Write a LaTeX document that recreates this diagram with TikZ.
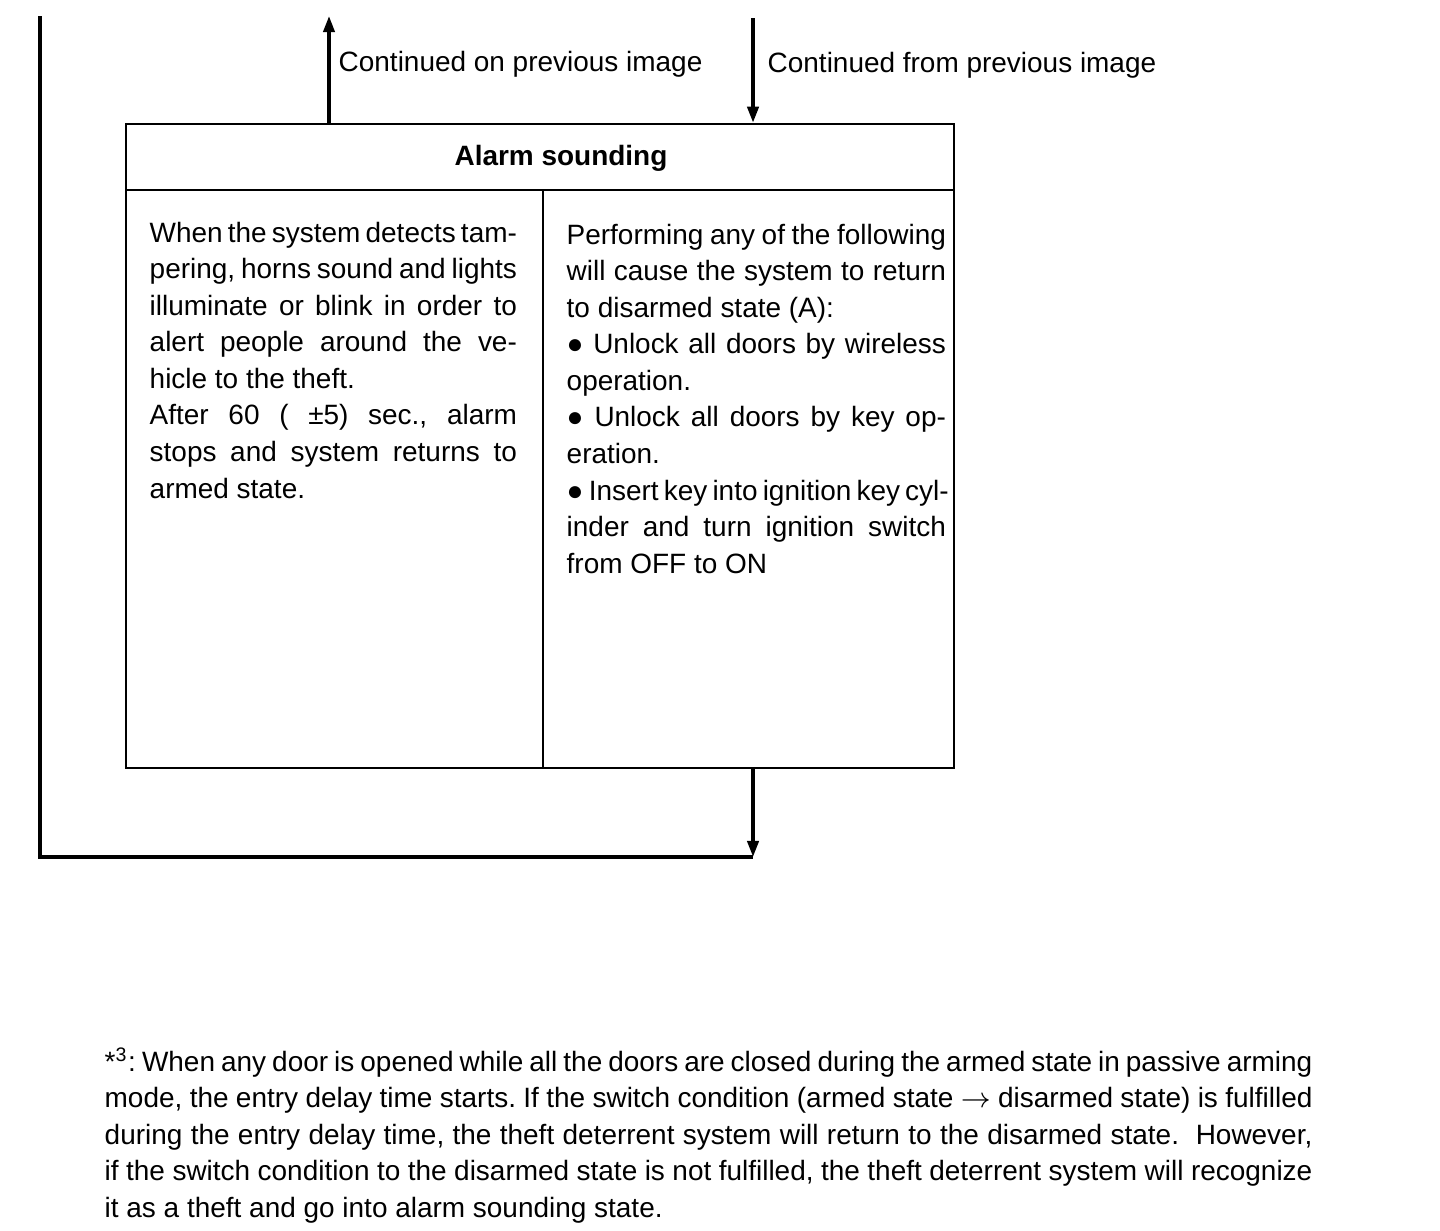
\documentclass[tikz,border=0pt]{standalone}
\usepackage{fontspec}
\setmainfont{Liberation Sans}
\usetikzlibrary{arrows.meta,positioning,calc}
% one justified line of a box text
\newcommand{\jl}[1]{\makebox[\hsize][s]{#1}}
\tikzset{
  frame/.style={draw=black, line width=0.6pt, inner sep=0pt},
  txt/.style={font=\fontsize{7.95pt}{10.4pt}\selectfont\frenchspacing, inner sep=0pt, text=black},
  para/.style={txt, align=justify, text width=#1, anchor=base west},
  flow/.style={draw=black, line width=1pt},
  arr/.style={flow, -{Triangle[length=4.6pt,width=3.2pt]}},
}

\begin{document}
\begin{tikzpicture}[x=0.01cm,y=-0.01cm]
  \useasboundingbox (0,0) rectangle (1440,1230);
  % state box
  \node[frame, minimum width=8.28cm, minimum height=6.44cm] (box) at (540,446) {};
  \node[frame, minimum width=8.28cm, minimum height=0.66cm, anchor=north] (head) at (box.north) {};
  \node[txt, font=\fontsize{7.95pt}{10.4pt}\selectfont\bfseries, anchor=base] (title) at (561,165) {Alarm sounding};
  \coordinate (split) at (543,0);
  \draw[frame] (head.south -| split) -- (box.south -| split);

  \node[para=3.67cm] (left) at (149,242) {%
    \jl{When the system detects tam-}\\
    \jl{pering, horns sound and lights}\\
    \jl{illuminate or blink in order to}\\
    \jl{alert people around the ve-}\\
    hicle to the theft.\\
    \jl{After 60 ( ±5) sec., alarm}\\
    \jl{stops and system returns to}\\
    armed state.};
  \node[para=3.79cm] (right) at (566,244) {%
    \jl{Performing any of the following}\\
    \jl{will cause the system to return}\\
    to disarmed state (A):\\
    \jl{● Unlock all doors by wireless}\\
    operation.\\
    \jl{● Unlock all doors by key op-}\\
    eration.\\
    \jl{● Insert key into ignition key cyl-}\\
    \jl{inder and turn ignition switch}\\
    from OFF to ON};

  % connectors
  \coordinate (upend) at (329,16);
  \coordinate (downstart) at (753,18);
  \coordinate (loopstart) at (40,16);
  \coordinate (loopend) at (753,857);
  \draw[arr] (box.north -| upend) -- (upend);
  \draw[arr] (downstart) -- (box.north -| downstart);
  \draw[arr] (box.south -| loopend) -- (loopend);
  \draw[flow] (loopstart) |- (loopend);
  \node[txt, anchor=base west] (onlab) at (338,71) {Continued on previous image};
  \node[txt, anchor=base west] (fromlab) at (767,72) {Continued from previous image};

  % footnote
  \node[para=12.07cm] (note) at (104,1071) {%
    \jl{*\textsuperscript{3}: When any door is opened while all the doors are closed during the armed state in passive arming}\\
    \jl{mode, the entry delay time starts. If the switch condition (armed state $\rightarrow$ disarmed state) is fulfilled}\\
    \jl{during the entry delay time, the theft deterrent system will return to the disarmed state.\ \ However,}\\
    \jl{if the switch condition to the disarmed state is not fulfilled, the theft deterrent system will recognize}\\
    it as a theft and go into alarm sounding state.};
\end{tikzpicture}
\end{document}
